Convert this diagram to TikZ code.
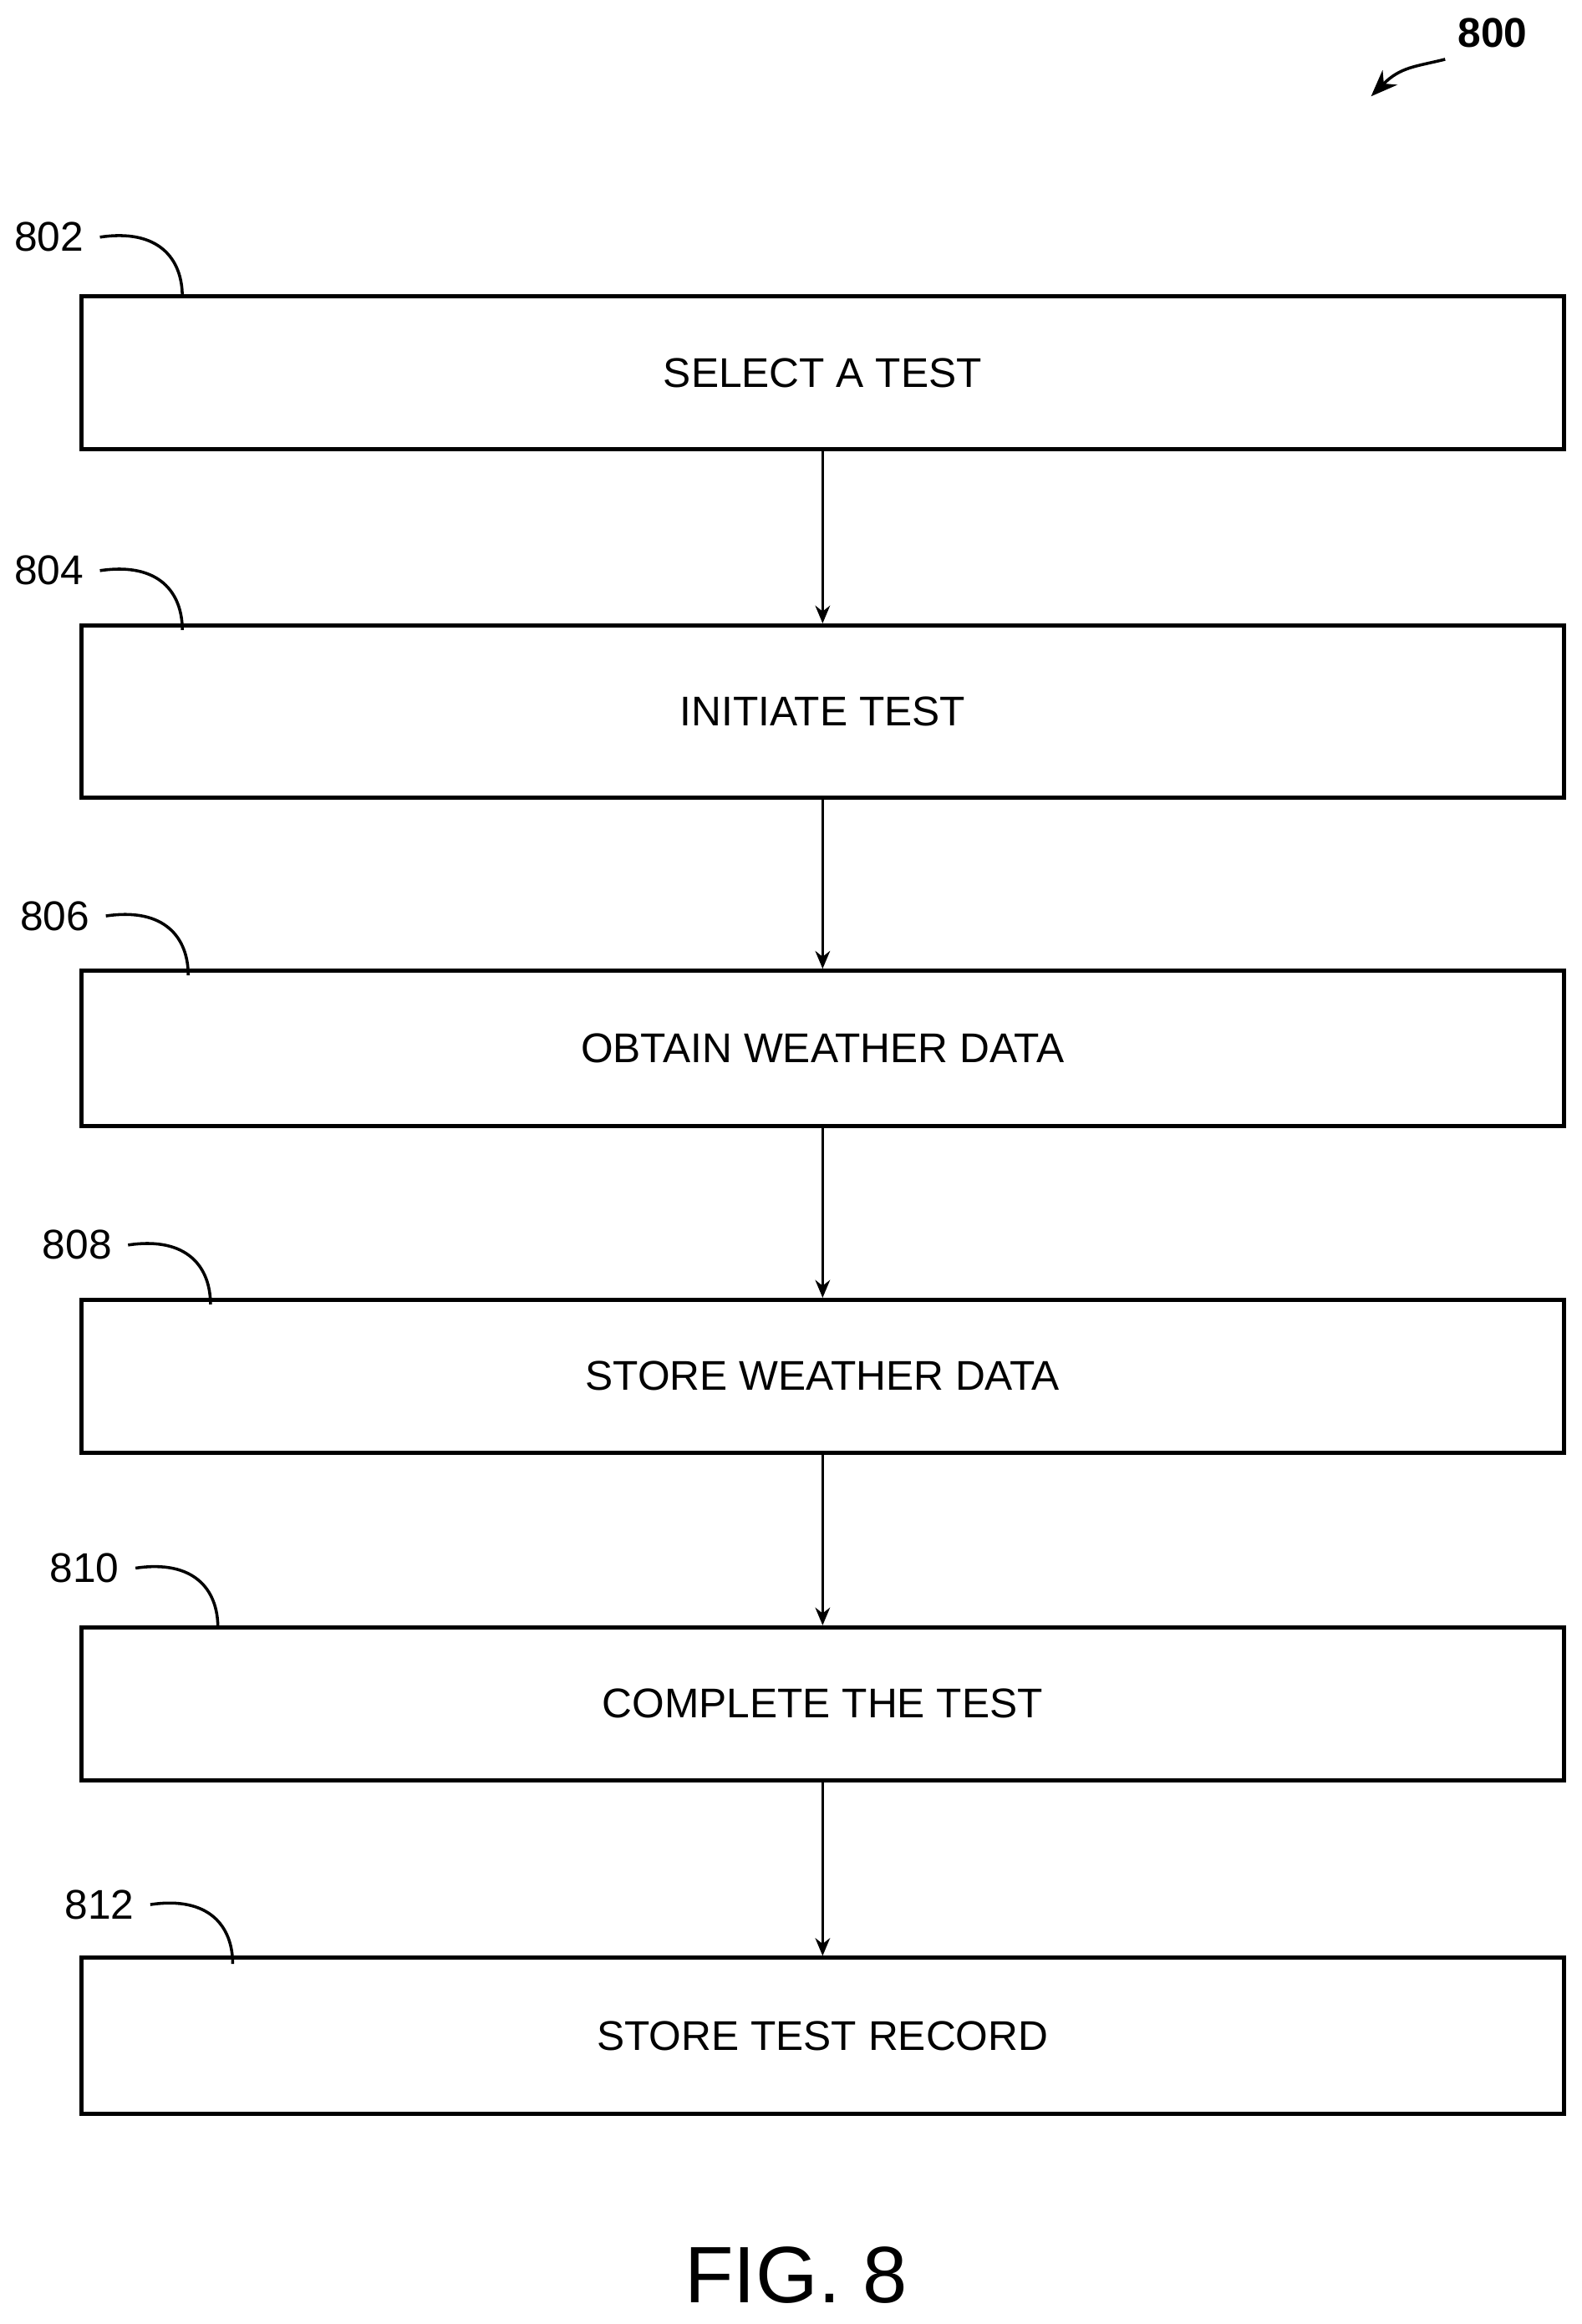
\documentclass[tikz,border=0pt]{standalone}
\usepackage{fontspec}
\setmainfont{Liberation Sans}
\usetikzlibrary{arrows.meta}
\begin{document}
\begin{tikzpicture}[x=0.5pt,y=-0.5pt,
 box/.style={draw,line width=1.4pt,minimum width=500pt,inner sep=0pt,font=\fontsize{14}{18}\selectfont},
 lab/.style={font=\fontsize{14}{16}\selectfont},
 lead/.style={line width=1pt},
 arr/.style={line width=0.8pt,-{Stealth[length=6pt,width=5pt]}}]
\useasboundingbox (0,0) rectangle (1067,1568);
\node[box,minimum height=51.5pt] (b1) at (555,251.5) {SELECT A TEST};
\node[box,minimum height=58pt] (b2) at (555,480) {INITIATE TEST};
\node[box,minimum height=52.5pt] (b3) at (555,707.5) {OBTAIN WEATHER DATA};
\node[box,minimum height=51.5pt] (b4) at (555,928.5) {STORE WEATHER DATA};
\node[box,minimum height=51.5pt] (b5) at (555,1149.5) {COMPLETE THE TEST};
\node[box,minimum height=52.5pt] (b6) at (555,1373.5) {STORE TEST RECORD};
\foreach \a/\b in {b1/b2,b2/b3,b3/b4,b4/b5,b5/b6} \draw[arr] (\a) -- (\b);
\foreach \n/\x/\y in {802/33/160,804/33/385,806/37/618,808/52/840,810/57/1058,812/67/1285}{
 \node[lab] (l\n) at (\x,\y) {\n};
 \coordinate (e\n) at (\x+90,\y+40);
 \draw[lead] (l\n.east) ++(4,0) .. controls +(40,-6) and +(0,-25) .. (e\n);
}
\node[lab,font=\fontsize{14}{16}\selectfont\bfseries] (l800) at (1007,22) {800};
\coordinate (t800) at (925,65);
\draw[lead,-{Stealth[length=9pt,width=7pt]}] (975,40) .. controls (955,45) and (945,45) .. (t800);
\node[font=\fontsize{27}{32}\selectfont] (fig) at (537,1535) {FIG. 8};
\end{tikzpicture}
\end{document}
